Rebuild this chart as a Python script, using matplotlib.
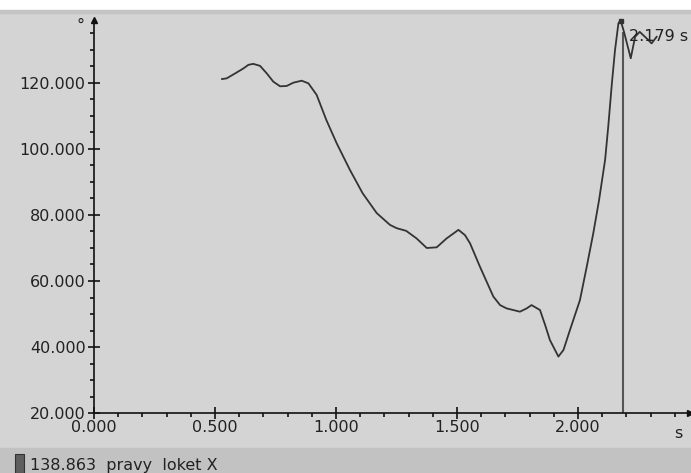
import numpy as np
import matplotlib.pyplot as plt

# time (s) and angle (deg)
t = [0.529, 0.548, 0.583, 0.617, 0.638, 0.658, 0.686, 0.714, 0.741, 0.769,
     0.796, 0.824, 0.858, 0.886, 0.920, 0.960, 1.003, 1.058, 1.110, 1.168,
     1.223, 1.251, 1.290, 1.333, 1.375, 1.416, 1.457, 1.506, 1.533, 1.554,
     1.595, 1.650, 1.678, 1.705, 1.760, 1.788, 1.808, 1.843, 1.864, 1.884,
     1.919, 1.940, 1.967, 2.008, 2.036, 2.063, 2.087, 2.112, 2.125, 2.140,
     2.153, 2.167, 2.176, 2.190, 2.218, 2.236, 2.255, 2.284, 2.304, 2.325]
angle = [121.2, 121.4, 122.9, 124.4, 125.5, 125.8, 125.2, 122.9, 120.4, 119.0,
         119.1, 120.1, 120.7, 119.9, 116.4, 108.8, 101.7, 93.6, 86.6, 80.6,
         77.0, 76.0, 75.2, 72.9, 70.0, 70.2, 72.9, 75.5, 73.9, 71.4,
         64.3, 55.3, 52.7, 51.7, 50.7, 51.7, 52.7, 51.2, 46.7, 42.1,
         37.1, 39.1, 45.2, 54.2, 64.3, 74.4, 84.5, 96.7, 106.8, 119.9,
         130.0, 138.1, 139.0, 135.5, 127.5, 134.0, 135.5, 133.5, 132.0, 134.0]

cursor_t = 2.179
cursor_val = 138.863
legend_label = "pravy  loket X"

x_ticks = [0.0, 0.5, 1.0, 1.5, 2.0]
y_ticks = [20, 40, 60, 80, 100, 120]

bg = '#d4d4d4'
fig = plt.figure(figsize=(6.91, 4.73), dpi=100, facecolor=bg)

# top white strip and bottom legend band
fig.patches.append(plt.Rectangle((0, 1 - 10 / 473), 1, 10 / 473, transform=fig.transFigure,
                                 color='white', zorder=0))
fig.patches.append(plt.Rectangle((0, 1 - 13 / 473), 1, 3 / 473, transform=fig.transFigure,
                                 color='#c4c4c4', zorder=0))
fig.patches.append(plt.Rectangle((0, 0), 1, 25 / 473, transform=fig.transFigure,
                                 color='#c2c2c2', zorder=0))

ax = fig.add_axes([94 / 691, 60 / 473, 596 / 691, 393 / 473])
ax.set_facecolor(bg)
ax.set_xlim(0, 596 / 242)
ax.set_ylim(20, 20 + 393 / 3.3)

ax.plot(t, angle, color='#333333', lw=1.3, zorder=3)
ax.vlines(cursor_t + 0.007, 20, 135.5, color='#555555', lw=1.5, zorder=2)
ax.plot([cursor_t], [cursor_val], marker='s', ms=3, color='#333333', zorder=4, clip_on=False)
ax.text(cursor_t + 0.03, 134, f"{cursor_t:.3f} s", fontsize=11.5, color='#222222',
        va='center', ha='left', zorder=5)

for side in ['top', 'right']:
    ax.spines[side].set_visible(False)
for side in ['left', 'bottom']:
    ax.spines[side].set_color('#111111')
    ax.spines[side].set_linewidth(1.2)

ax.set_xticks(x_ticks)
ax.set_xticklabels([f"{v:.3f}" for v in x_ticks])
ax.set_yticks(y_ticks)
ax.set_yticklabels([f"{v:.3f}" for v in y_ticks])
ax.set_xticks(np.arange(0.1, 2.45, 0.1), minor=True)
ax.set_yticks(np.arange(25, 139, 5), minor=True)
ax.tick_params(which='major', direction='inout', length=8, width=1.2, color='#111111',
               labelsize=11.5, labelcolor='#222222')
ax.tick_params(axis='x', which='major', pad=1)
ax.tick_params(axis='y', which='major', pad=2)
ax.tick_params(which='minor', direction='out', length=3, width=1.2, color='#111111')

# arrow heads and unit labels
ax.plot([0], [20 + 393 / 3.3], marker='^', ms=5, color='#111111', clip_on=False)
ax.plot([596 / 242], [20], marker='>', ms=5, color='#111111', clip_on=False)
fig.text(80 / 691, 1 - 25 / 473, "°", fontsize=11.5, color='#222222', ha='center', va='center')
fig.text(678 / 691, 1 - 433 / 473, "s", fontsize=11.5, color='#222222', ha='center', va='center')

# legend band
fig.patches.append(plt.Rectangle((15 / 691, 0), 9 / 691, 19 / 473, transform=fig.transFigure,
                                 facecolor='#5e5e5e', edgecolor='#333333', lw=0.8, zorder=1))
fig.text(30 / 691, 8 / 473, f"{cursor_val:.3f}  {legend_label}", fontsize=11.5,
         color='#222222', ha='left', va='center')

fig.savefig('out.png', dpi=100, facecolor=bg)
